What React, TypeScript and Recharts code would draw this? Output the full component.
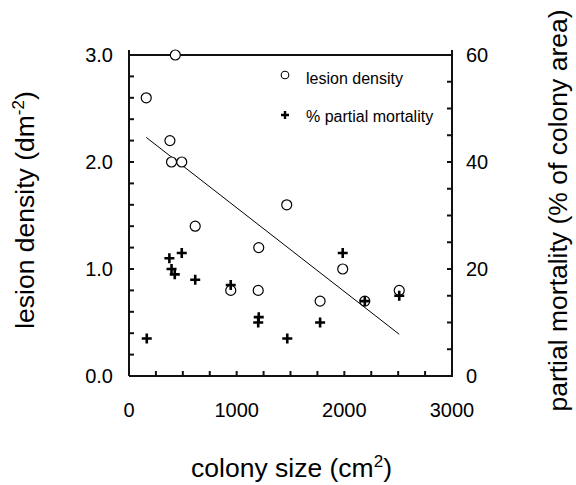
import { Scatter, ScatterChart, XAxis, YAxis } from 'recharts';

// lesion density (left axis, dm^-2)
const lesionSize = [160, 430, 380, 395, 490, 615, 945, 1200, 1205, 1465, 1775, 1985, 2190, 2510];
const lesionDensity = [2.6, 3.0, 2.2, 2.0, 2.0, 1.4, 0.8, 0.8, 1.2, 1.6, 0.7, 1.0, 0.7, 0.8];

// % partial mortality (right axis)
const mortSize = [165, 375, 395, 425, 490, 615, 945, 1205, 1200, 1470, 1775, 1985, 2190, 2510];
const mortPct = [7, 22, 20, 19, 23, 18, 17, 11, 10, 7, 10, 23, 14, 15];

// regression line for lesion density
const fitSize = [160, 2510];
const fitDensity = [2.23, 0.39];

const xTicks = [0, 250, 500, 750, 1000, 1250, 1500, 1750, 2000, 2250, 2500, 2750, 3000];
const leftTicks = [0, 0.2, 0.4, 0.6, 0.8, 1, 1.2, 1.4, 1.6, 1.8, 2, 2.2, 2.4, 2.6, 2.8, 3];
const rightTicks = [0, 5, 10, 15, 20, 25, 30, 35, 40, 45, 50, 55, 60];

const X_MAX = 3000;
const LEFT_MAX = 3;
const RIGHT_MAX = 60;

const FONT = '"Liberation Sans", Arial, Helvetica, sans-serif';

const lesionData = lesionSize.map((x, i) => ({ x, y: lesionDensity[i] }));
const mortData = mortSize.map((x, i) => ({ x, y: mortPct[i] }));
const fitData = fitSize.map((x, i) => ({ x, y: fitDensity[i] }));

// plot frame (domain corners) and inward tick marks, placed through the scales
const frameData = [
  { x: 0, y: 0 },
  { x: 0, y: LEFT_MAX },
  { x: X_MAX, y: LEFT_MAX },
  { x: X_MAX, y: 0 },
  { x: 0, y: 0 },
];
const bottomTickData = xTicks.map((x) => ({ x, y: 0 }));
const leftTickData = leftTicks.map((y) => ({ x: 0, y }));
const rightTickData = rightTicks.map((y) => ({ x: X_MAX, y }));

const Circle = (p: any) => <circle cx={p.cx} cy={p.cy} r={5} fill="#fff" stroke="#000" strokeWidth={1.2} />;
const Plus = (p: any) => (
  <path d={`M${p.cx - 5},${p.cy}H${p.cx + 5}M${p.cx},${p.cy - 5}V${p.cy + 5}`} stroke="#000" strokeWidth={2.6} fill="none" />
);
const TickUp = (p: any) => <path d={`M${p.cx},${p.cy}V${p.cy - 5}`} stroke="#111" strokeWidth={2} fill="none" />;
const TickRight = (p: any) => <path d={`M${p.cx},${p.cy}H${p.cx + 5}`} stroke="#111" strokeWidth={2} fill="none" />;
const TickLeft = (p: any) => <path d={`M${p.cx},${p.cy}H${p.cx - 5}`} stroke="#111" strokeWidth={2} fill="none" />;
const Nothing = () => <g />;

const tickStyle = { fill: '#000', fontSize: 20, fontFamily: FONT };

function LegendBox() {
  return (
    <svg width={220} height={70} style={{ position: 'absolute', left: 270, top: 60, fontFamily: FONT }}>
      <circle cx={15} cy={15} r={3.8} fill="#fff" stroke="#000" strokeWidth={1.1} />
      <text x={36} y={24} fontSize={16} fill="#000">lesion density</text>
      <path d="M11,55H19M15,51V59" stroke="#000" strokeWidth={2.4} />
      <text x={36} y={62} fontSize={16} fill="#000">% partial mortality</text>
    </svg>
  );
}

export default function App() {
  return (
    <div style={{ position: 'absolute', left: 0, top: 0, width: 576, height: 485, background: '#fff' }}>
      <ScatterChart width={576} height={485} margin={{ top: 55, right: 64, bottom: 69, left: 69 }}>
        <XAxis
          type="number"
          dataKey="x"
          domain={[0, X_MAX]}
          ticks={xTicks}
          interval={0}
          tickSize={5}
          tickMargin={22}
          height={40}
          stroke="#111"
          strokeWidth={2}
          tickLine={false}
          tick={tickStyle}
          tickFormatter={(v: number) => (v % 1000 === 0 ? String(v) : '')}
        />
        <YAxis
          yAxisId="left"
          type="number"
          dataKey="y"
          domain={[0, LEFT_MAX]}
          ticks={leftTicks}
          interval={0}
          tickSize={5}
          tickMargin={11}
          width={60}
          stroke="#111"
          strokeWidth={2}
          tickLine={false}
          tick={tickStyle}
          tickFormatter={(v: number) => (v % 1 === 0 ? v.toFixed(1) : '')}
        />
        <YAxis
          yAxisId="right"
          orientation="right"
          type="number"
          dataKey="y"
          domain={[0, RIGHT_MAX]}
          ticks={rightTicks}
          interval={0}
          tickSize={5}
          tickMargin={9}
          width={60}
          stroke="#111"
          strokeWidth={2}
          tickLine={false}
          tick={tickStyle}
          tickFormatter={(v: number) => (v % 20 === 0 ? String(v) : '')}
        />
        <Scatter yAxisId="left" data={frameData} line={{ stroke: '#111', strokeWidth: 2 }} shape={TickUp} isAnimationActive={false} />
        <Scatter yAxisId="left" data={bottomTickData} shape={TickUp} isAnimationActive={false} />
        <Scatter yAxisId="left" data={leftTickData} shape={TickRight} isAnimationActive={false} />
        <Scatter yAxisId="right" data={rightTickData} shape={TickLeft} isAnimationActive={false} />
        <Scatter yAxisId="left" data={fitData} line={{ stroke: '#000', strokeWidth: 1 }} shape={Nothing} isAnimationActive={false} />
        <Scatter yAxisId="left" data={lesionData} shape={Circle} isAnimationActive={false} />
        <Scatter yAxisId="right" data={mortData} shape={Plus} isAnimationActive={false} />
      </ScatterChart>
      <svg width={576} height={485} style={{ position: 'absolute', left: 0, top: 0, pointerEvents: 'none', fontFamily: FONT }}>
        <text x={34} y={210} transform="rotate(-90 34 210)" textAnchor="middle" fontSize={26.5} fill="#000">
          lesion density (dm<tspan dy={-10} fontSize={17}>-2</tspan>
          <tspan dy={10}>)</tspan>
        </text>
        <text x={567} y={210.5} transform="rotate(-90 567 210.5)" textAnchor="middle" fontSize={26.5} fill="#000">
          partial mortality (% of colony area)
        </text>
        <text x={291.5} y={477} textAnchor="middle" fontSize={26.5} fill="#000">
          colony size (cm<tspan dy={-10} fontSize={17}>2</tspan>
          <tspan dy={10}>)</tspan>
        </text>
      </svg>
      <LegendBox />
    </div>
  );
}
